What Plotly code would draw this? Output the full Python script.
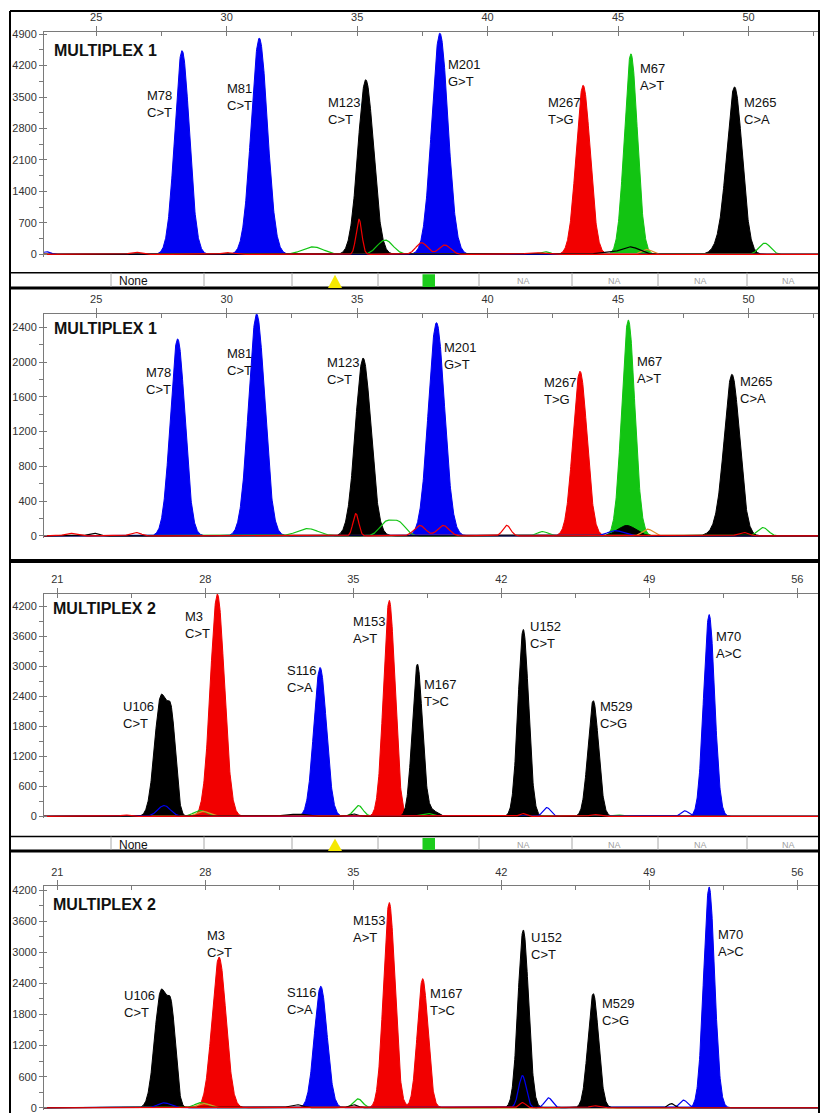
import numpy as np
import plotly.graph_objects as go

# ====================== DATA ======================
# Panel 1 : MULTIPLEX 1 (upper run)
P1_POS    = [28.29, 31.25, 35.33, 38.17, 43.66, 45.49, 49.47, 49.00,
             35.07, 36.07, 33.30, 37.47, 38.36, 45.45, 46.10, 50.62, 42.20, 23.10, 26.50, 30.00, 41.80, 44.50]
P1_HEIGHT = [4530, 4810, 3885, 4920, 3760, 4460, 3650, 250,
             780, 320, 170, 260, 210, 170, 110, 250, 60, 60, 50, 40, 40, 50]
P1_SIGMA  = [0.28, 0.31, 0.30, 0.31, 0.27, 0.25, 0.29, 0.30,
             0.11, 0.30, 0.40, 0.22, 0.22, 0.35, 0.20, 0.22, 0.20, 0.15, 0.20, 0.20, 0.30, 0.30]
P1_DYE    = ["blue", "blue", "black", "blue", "red", "green", "black", "black",
             "red", "green", "green", "red", "red", "black", "orange", "green", "green", "blue", "red", "red", "red", "black"]
P1_CALLED = [1, 1, 1, 1, 1, 1, 1, 1,
             0, 0, 0, 0, 0, 0, 0, 0, 0, 0, 0, 0, 0, 0]
P1_LABELS = ["M78<br>C>T", "M81<br>C>T", "M123<br>C>T", "M201<br>G>T",
             "M267<br>T>G", "M67<br>A>T", "M265<br>C>A"]
P1_YTICKS = [0, 700, 1400, 2100, 2800, 3500, 4200, 4900]
P1_XLABELS = [25, 30, 35, 40, 45, 50]

# Panel 2 : MULTIPLEX 1 (lower run)
P2_POS    = [28.12, 31.15, 35.23, 38.04, 43.54, 45.39, 49.37, 48.90, 45.33,
             34.95, 36.10, 36.60, 33.10, 37.40, 38.30, 40.73, 46.14, 50.55, 42.10, 24.90, 26.50, 24.00, 44.90, 49.80]
P2_HEIGHT = [2267, 2553, 2046, 2454, 1894, 2485, 1829, 100, 120,
             256, 150, 150, 84, 120, 120, 122, 77, 96, 50, 30, 40, 30, 60, 40]
P2_SIGMA  = [0.28, 0.31, 0.30, 0.31, 0.27, 0.25, 0.29, 0.30, 0.35,
             0.11, 0.25, 0.25, 0.40, 0.22, 0.22, 0.15, 0.20, 0.20, 0.20, 0.20, 0.20, 0.20, 0.30, 0.20]
P2_DYE    = ["blue", "blue", "black", "blue", "red", "green", "black", "black", "black",
             "red", "green", "green", "green", "red", "red", "red", "orange", "green", "green", "black", "red", "red", "blue", "red"]
P2_CALLED = [1, 1, 1, 1, 1, 1, 1, 1, 1,
             0, 0, 0, 0, 0, 0, 0, 0, 0, 0, 0, 0, 0, 0, 0]
P2_LABELS = P1_LABELS
P2_YTICKS = [0, 400, 800, 1200, 1600, 2000, 2400]
P2_XLABELS = [25, 30, 35, 40, 45, 50]

# Panel 3 : MULTIPLEX 2 (upper run)
P3_POS    = [25.90, 26.42, 28.57, 33.43, 36.70, 38.03, 38.75, 43.04, 46.35, 51.83,
             26.05, 27.75, 27.90, 35.24, 35.00, 44.15, 43.00, 50.69, 24.20, 31.90, 32.50, 38.50, 46.40, 47.50]
P3_HEIGHT = [2380, 1600, 4450, 2980, 4324, 3046, 110, 3741, 2317, 4040,
             218, 120, 100, 218, 50, 179, 60, 112, 30, 30, 40, 60, 40, 30]
P3_SIGMA  = [0.30, 0.20, 0.33, 0.30, 0.27, 0.24, 0.25, 0.25, 0.25, 0.26,
             0.30, 0.30, 0.30, 0.22, 0.20, 0.18, 0.15, 0.18, 0.20, 0.30, 0.30, 0.30, 0.20, 0.20]
P3_DYE    = ["black", "black", "red", "blue", "red", "black", "black", "black", "black", "blue",
             "blue", "green", "orange", "green", "black", "blue", "red", "blue", "red", "black", "black", "green", "red", "green"]
P3_CALLED = [1, 1, 1, 1, 1, 1, 1, 1, 1, 1,
             0, 0, 0, 0, 0, 0, 0, 0, 0, 0, 0, 0, 0, 0]
P3_LABELS = ["U106<br>C>T", "M3<br>C>T", "S116<br>C>A", "M153<br>A>T",
             "M167<br>T>C", "U152<br>C>T", "M529<br>C>G", "M70<br>A>C"]
P3_YTICKS = [0, 600, 1200, 1800, 2400, 3000, 3600, 4200]
P3_XLABELS = [21, 28, 35, 42, 49, 56]

# Panel 4 : MULTIPLEX 2 (lower run)
P4_POS    = [25.90, 26.42, 28.65, 33.46, 36.70, 38.28, 43.04, 46.35, 51.83,
             26.05, 27.80, 27.95, 35.22, 35.00, 32.30, 43.00, 43.00, 44.23, 50.62, 50.04, 46.40]
P4_HEIGHT = [2230, 1500, 2908, 2346, 3962, 2492, 3431, 2204, 4263,
             96, 100, 80, 172, 60, 60, 621, 100, 192, 148, 80, 40]
P4_SIGMA  = [0.30, 0.20, 0.33, 0.30, 0.27, 0.25, 0.25, 0.25, 0.26,
             0.30, 0.30, 0.30, 0.22, 0.20, 0.30, 0.18, 0.15, 0.18, 0.18, 0.15, 0.20]
P4_DYE    = ["black", "black", "red", "blue", "red", "red", "black", "black", "blue",
             "blue", "green", "orange", "green", "black", "black", "blue", "red", "blue", "blue", "black", "red"]
P4_CALLED = [1, 1, 1, 1, 1, 1, 1, 1, 1,
             0, 0, 0, 0, 0, 0, 0, 0, 0, 0, 0, 0]
P4_LABELS = P3_LABELS
P4_YTICKS = [0, 600, 1200, 1800, 2400, 3000, 3600, 4200]
P4_XLABELS = [21, 28, 35, 42, 49, 56]

PANEL_TITLES = ["MULTIPLEX 1", "MULTIPLEX 1", "MULTIPLEX 2", "MULTIPLEX 2"]
STRIP_TEXT = ["None", "NA", "NA", "NA", "NA"]

# ====================== LAYOUT / STYLE ======================
W, H = 820, 1117
FONT = "Liberation Sans, Arial, sans-serif"
COLORS = {"blue": "#0000f2", "green": "#12c412", "black": "#000000",
          "red": "#f20000", "orange": "#e0902a"}
AXIS_GRAY = "#7a7a7a"

def fx(px):
    return px / W

def fy(py):
    return 1 - py / H

# per panel: x range, x minor step, y range, y-domain pixel (bottom, top)
panels = [
    dict(pos=P1_POS, h=P1_HEIGHT, s=P1_SIGMA, d=P1_DYE, c=P1_CALLED, labels=P1_LABELS,
         yt=P1_YTICKS, xl=P1_XLABELS, xr=[23.0, 52.66], xstep=2.5, yr=[-50, 4950], dom=(254.5, 28),
         lab_xy=[(26.91, 3355), (29.97, 3509), (33.84, 3200), (38.43, 4039),
                 (42.26, 3200), (45.80, 3951), (49.77, 3200)],
         title_xy=(23.34, 4524)),
    dict(pos=P2_POS, h=P2_HEIGHT, s=P2_SIGMA, d=P2_DYE, c=P2_CALLED, labels=P2_LABELS,
         yt=P2_YTICKS, xl=P2_XLABELS, xr=[23.0, 52.66], xstep=2.5, yr=[-25, 2556], dom=(537.9, 312),
         lab_xy=[(26.87, 1779), (29.97, 1997), (33.80, 1894), (38.29, 2065),
                 (42.12, 1665), (45.68, 1905), (49.63, 1677)],
         title_xy=(23.34, 2385)),
    dict(pos=P3_POS, h=P3_HEIGHT, s=P3_SIGMA, d=P3_DYE, c=P3_CALLED, labels=P3_LABELS,
         yt=P3_YTICKS, xl=P3_XLABELS, xr=[20.37, 56.98], xstep=3.5, yr=[-40, 4456], dom=(820.3, 594),
         lab_xy=[(24.06, 2033), (26.99, 3821), (31.82, 2748), (34.94, 3722),
                 (38.30, 2470), (43.31, 3629), (46.62, 2033), (52.10, 3430)],
         title_xy=(20.75, 4159)),
    dict(pos=P4_POS, h=P4_HEIGHT, s=P4_SIGMA, d=P4_DYE, c=P4_CALLED, labels=P4_LABELS,
         yt=P4_YTICKS, xl=P4_XLABELS, xr=[20.37, 56.98], xstep=3.5, yr=[-40, 4282], dom=(1113.8, 888.3),
         lab_xy=[(24.11, 2007), (28.03, 3157), (31.82, 2064), (34.94, 3445),
                 (38.58, 2045), (43.36, 3113), (46.72, 1853), (52.20, 3176)],
         title_xy=(20.75, 3924)),
]

fig = go.Figure()
annotations = []
shapes = []

for i, p in enumerate(panels, start=1):
    xa = "x" if i == 1 else f"x{i}"
    ya = "y" if i == 1 else f"y{i}"
    x = np.linspace(p["xr"][0], p["xr"][1], 3000)

    def curve(dye, called):
        y = np.zeros_like(x)
        for pos, hh, sg, dd, cc in zip(p["pos"], p["h"], p["s"], p["d"], p["c"]):
            if dd == dye and cc == called:
                y += hh * np.exp(-0.5 * ((x - pos) / sg) ** 2)
        return y

    # filled (called) peaks
    for dye in ["blue", "green", "red", "black"]:
        if any(dd == dye and cc == 1 for dd, cc in zip(p["d"], p["c"])):
            fig.add_trace(go.Scatter(x=x, y=curve(dye, 1), mode="lines", xaxis=xa, yaxis=ya,
                                     line=dict(color=COLORS[dye], width=1), fill="tozeroy",
                                     fillcolor=COLORS[dye], hoverinfo="skip", showlegend=False))
    # raw trace lines on top
    for dye in ["green", "orange", "blue", "black", "red"]:
        fig.add_trace(go.Scatter(x=x, y=curve(dye, 0), mode="lines", xaxis=xa, yaxis=ya,
                                 line=dict(color=COLORS[dye], width=1.2),
                                 hoverinfo="skip", showlegend=False))

    # axes
    xt = list(np.arange(p["xr"][0] - (p["xr"][0] % p["xstep"]) + p["xstep"], p["xr"][1], p["xstep"]))
    xt_text = [str(int(round(v))) if any(abs(v - l) < 1e-6 for l in p["xl"]) else "" for v in xt]
    ystep = p["yt"][1] - p["yt"][0]
    yall = list(np.arange(0, p["yt"][-1] + ystep / 4, ystep / 2))
    y_text = [str(int(v)) if int(v) in p["yt"] else "" for v in yall]
    ydom = [fy(p["dom"][0]), fy(p["dom"][1])]
    fig.layout[("xaxis" if i == 1 else f"xaxis{i}")] = dict(
        domain=[fx(44), fx(818)], range=p["xr"], anchor=ya, side="top",
        showline=True, linecolor=AXIS_GRAY, linewidth=1, showgrid=False, zeroline=False,
        tickmode="array", tickvals=xt, ticktext=xt_text, ticks="outside", ticklen=5,
        tickcolor=AXIS_GRAY, tickwidth=1,
        tickfont=dict(family=FONT, size=11, color="#333333"),
        minor=dict(tickmode="array", tickvals=xt, ticks="inside", ticklen=4,
                   tickcolor=AXIS_GRAY, tickwidth=1, showgrid=False),
        fixedrange=True)
    fig.layout[("yaxis" if i == 1 else f"yaxis{i}")] = dict(
        domain=ydom, range=p["yr"], anchor=xa, side="left",
        showline=True, linecolor=AXIS_GRAY, linewidth=1, showgrid=False, zeroline=False,
        tickmode="array", tickvals=yall, ticktext=y_text, ticks="outside", ticklen=4,
        tickcolor=AXIS_GRAY, tickwidth=1,
        tickfont=dict(family=FONT, size=11, color="#333333"),
        minor=dict(tickmode="array", tickvals=p["yt"], ticks="inside", ticklen=3,
                   tickcolor=AXIS_GRAY, tickwidth=1, showgrid=False),
        fixedrange=True)

    # peak labels
    for txt, (lx, ly) in zip(p["labels"], p["lab_xy"]):
        annotations.append(dict(x=lx, y=ly, xref=xa, yref=ya, text=txt, showarrow=False,
                                xanchor="left", yanchor="middle", align="left",
                                font=dict(family=FONT, size=13, color="#111111"), borderpad=0))
    annotations.append(dict(x=p["title_xy"][0], y=p["title_xy"][1], xref=xa, yref=ya,
                            text="<b>" + PANEL_TITLES[i - 1] + "</b>", showarrow=False,
                            xanchor="left", yanchor="middle",
                            font=dict(family=FONT, size=16, color="#111111"), borderpad=0))

# ---------- frame lines ----------
def hline(py, x0, x1, w, color="black"):
    shapes.append(dict(type="line", xref="paper", yref="paper", x0=fx(x0), x1=fx(x1),
                       y0=fy(py), y1=fy(py), line=dict(color=color, width=w)))

def vline(px, y0, y1, w, color="black"):
    shapes.append(dict(type="line", xref="paper", yref="paper", x0=fx(px), x1=fx(px),
                       y0=fy(y0), y1=fy(y1), line=dict(color=color, width=w)))

hline(7, 10, 820, 2)
vline(10, 7, 1117, 2)
vline(819, 7, 1117, 2)
hline(286, 10, 820, 3)
hline(561, 10, 820, 4)
hline(853, 10, 820, 3)

# ---------- marker strips ----------
DIVIDERS = [111, 204, 292, 378, 479, 572, 658, 747]
NA_CENTERS = [523, 614, 700, 788]
for top, bot in [(270.7, 286), (838.5, 853)]:
    hline(top, 10, 820, 1.5)
    for dx in DIVIDERS:
        vline(dx, top, bot - 1, 1, "#a8a8a8")
    mid = (top + bot) / 2 + 1
    annotations.append(dict(x=fx(117), y=fy(mid), xref="paper", yref="paper", text=STRIP_TEXT[0],
                            showarrow=False, xanchor="left", yanchor="middle",
                            font=dict(family=FONT, size=12, color="#111111")))
    for cx, t in zip(NA_CENTERS, STRIP_TEXT[1:]):
        annotations.append(dict(x=fx(cx), y=fy(mid), xref="paper", yref="paper", text=t,
                                showarrow=False, xanchor="center", yanchor="middle",
                                font=dict(family=FONT, size=9, color="#a0a0a0")))
    # yellow triangle
    shapes.append(dict(type="path", xref="paper", yref="paper",
                       path=f"M {fx(328)},{fy(bot)} L {fx(342)},{fy(bot)} L {fx(335)},{fy(top + 2)} Z",
                       fillcolor="#f5e800", line=dict(color="#f5e800", width=0)))
    # green square
    shapes.append(dict(type="rect", xref="paper", yref="paper", x0=fx(422.5), x1=fx(435),
                       y0=fy(bot - 1), y1=fy(top + 1.5), fillcolor="#1ccc1c",
                       line=dict(color="#1ccc1c", width=0)))

fig.update_layout(width=W, height=H, margin=dict(l=0, r=0, t=0, b=0),
                  paper_bgcolor="white", plot_bgcolor="white", showlegend=False,
                  annotations=annotations, shapes=shapes)
fig.write_html("out.html", config={"displayModeBar": False},
               post_script="document.body.style.margin='0';document.body.style.overflow='hidden';")
